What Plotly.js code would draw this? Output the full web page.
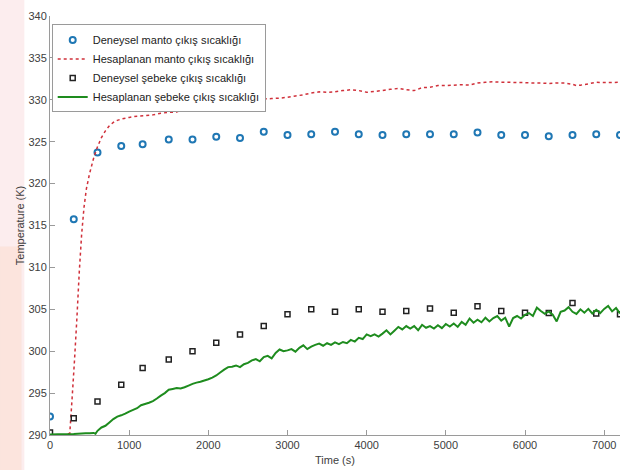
<!DOCTYPE html>
<html><head><meta charset="utf-8">
<script src="https://cdn.plot.ly/plotly-3.0.1.min.js"></script>
<style>html,body{margin:0;padding:0;background:#fff}#c{width:625px;height:470px}</style>
</head><body><div id="c"></div>
<script>
// Experimental data (every 300 s)
const expTime = [0,300,600,900,1170,1500,1800,2100,2400,2700,3000,3300,3600,3900,4200,4500,4800,5100,5400,5700,6000,6300,6600,6900,7200];
const expManto = [292.2,315.75,323.7,324.5,324.7,325.25,325.25,325.6,325.45,326.2,325.8,325.9,326.2,325.9,325.8,325.9,325.9,325.9,326.1,325.8,325.8,325.65,325.8,325.9,325.8];
const expSebeke = [290.3,292.0,294.0,296.0,298.0,299.0,300.0,301.0,302.0,303.0,304.4,305.0,304.7,305.0,304.7,304.8,305.1,304.6,305.35,304.8,304.6,304.55,305.75,304.5,304.4];

// Calculated manto outlet temperature
const calcMantoTime = [0,100,200,250,280,310,340,370,400,430,460,500,550,600,650,700,750,800,850,900,1000,1100,1200,1300,1400,1500,1600,1700,1800,1900,2000,2100,2200,2300,2400,2500,2600,2700,2800,2900,3000,3100,3200,3300,3400,3500,3600,3700,3800,3900,4000,4100,4200,4300,4400,4500,4600,4700,4800,4900,5000,5100,5200,5300,5400,5500,5600,5700,5800,5900,6000,6100,6200,6300,6400,6500,6600,6650,6700,6800,6900,7000,7100,7200];
const calcManto = [290.0,290.0,290.05,290.2,294.5,299.0,304.0,309.5,314.0,317.2,319.4,321.2,323.0,324.4,325.5,326.3,326.9,327.3,327.55,327.7,327.9,328.05,328.1,328.2,328.4,328.5,328.55,329.0,329.3,329.4,329.45,329.55,329.5,329.45,329.5,329.85,330.1,330.1,330.15,330.2,330.3,330.45,330.6,330.8,330.95,330.9,330.95,331.1,331.2,331.1,330.9,331.0,331.1,331.25,331.35,331.2,331.1,331.45,331.5,331.7,331.7,331.75,331.8,331.75,332.0,332.1,332.15,332.1,332.1,332.05,332.05,332.0,332.0,331.95,332.0,332.0,331.85,331.7,331.75,331.9,332.1,332.05,332.05,332.1];

// Calculated network (şebeke) outlet temperature
const calcSebekeTime = [0,100,200,300,400,450,500,550,575,600,650,700,750,800,850,900,950,1000,1050,1100,1150,1200,1250,1300,1350,1400,1450,1500,1550,1600,1650,1700,1750,1800,1850,1900,1950,2000,2050,2100,2150,2200,2250,2300,2350,2400,2450,2500,2550,2600,2650,2700,2750,2800,2850,2900,2950,3000,3050,3100,3150,3200,3250,3300,3350,3400,3450,3500,3550,3600,3650,3700,3750,3800,3850,3900,3950,4000,4050,4100,4150,4200,4250,4300,4350,4400,4450,4500,4550,4600,4650,4700,4750,4800,4850,4900,4950,5000,5050,5100,5150,5200,5250,5300,5350,5400,5450,5500,5550,5600,5650,5700,5750,5800,5850,5900,5950,6000,6050,6100,6150,6200,6250,6300,6350,6400,6450,6500,6550,6600,6650,6700,6750,6800,6850,6900,6950,7000,7050,7100,7150,7200];
const calcSebeke = [290.05,290.08,290.1,290.12,290.18,290.2,290.22,290.25,290.15,290.5,290.9,291.1,291.5,291.9,292.2,292.35,292.55,292.8,293.0,293.2,293.55,293.7,293.85,294.05,294.35,294.7,295.0,295.4,295.5,295.6,295.55,295.7,295.9,296.1,296.25,296.35,296.5,296.65,296.85,297.1,297.45,297.8,298.1,298.15,298.3,298.1,298.45,298.6,298.9,299.05,298.8,299.3,299.45,299.15,299.8,300.2,300.0,300.1,300.25,299.95,300.4,300.7,300.25,300.55,300.75,300.9,300.65,300.95,300.75,301.05,300.85,301.1,300.95,301.35,301.15,301.6,301.45,302.0,301.8,302.0,301.75,302.1,302.5,302.0,302.45,302.9,302.6,303.0,302.7,303.0,302.5,303.15,302.8,303.0,302.7,303.1,302.75,303.25,302.95,303.3,302.9,303.5,303.15,303.9,303.4,303.75,303.45,304.0,303.55,303.95,304.2,303.65,304.0,302.95,303.95,304.2,303.9,304.35,304.55,304.2,305.2,304.8,304.45,304.75,304.35,303.55,304.7,304.85,305.25,304.7,304.45,305.0,304.6,305.05,304.5,304.95,304.55,305.05,305.4,304.75,305.15,304.5];

const names = ['Deneysel manto çıkış sıcaklığı','Hesaplanan manto çıkış sıcaklığı','Deneysel şebeke çıkış sıcaklığı','Hesaplanan şebeke çıkış sıcaklığı'];

const traces = [
  {x: expTime, y: expManto, name: names[0], mode: 'markers', type: 'scatter',
   marker: {symbol: 'circle-open', size: 6, color: '#1f77b4', line: {width: 2, color: '#1f77b4'}}},
  {x: calcMantoTime, y: calcManto, name: names[1], mode: 'lines', type: 'scatter',
   line: {color: '#d0303a', width: 1.5, dash: 'dot', simplify: false}},
  {x: expTime, y: expSebeke, name: names[2], mode: 'markers', type: 'scatter',
   marker: {symbol: 'square-open', size: 5, color: '#222', line: {width: 1.5, color: '#222'}}},
  {x: calcSebekeTime, y: calcSebeke, name: names[3], mode: 'lines', type: 'scatter',
   line: {color: '#1e8c1e', width: 2, simplify: false}}
];

const axisCommon = {
  showgrid: false, zeroline: false, showline: true, linecolor: '#9a9a9a', linewidth: 1,
  ticks: 'inside', ticklen: 5, tickcolor: '#9a9a9a', mirror: false,
  tickfont: {family: 'Liberation Sans, Arial, sans-serif', size: 11, color: '#404040'}
};

const layout = {
  width: 625, height: 470,
  margin: {l: 50, r: 5, t: 16, b: 35},
  paper_bgcolor: '#ffffff', plot_bgcolor: 'rgba(0,0,0,0)',
  showlegend: true,
  xaxis: Object.assign({}, axisCommon, {range: [0, 7200], tickvals: [0,1000,2000,3000,4000,5000,6000,7000],
    title: {text: 'Time (s)', standoff: 6, font: {family: 'Liberation Sans, Arial, sans-serif', size: 11, color: '#404040'}}}),
  yaxis: Object.assign({}, axisCommon, {range: [290, 340], dtick: 5,
    title: {text: 'Temperature (K)', standoff: 1, font: {family: 'Liberation Sans, Arial, sans-serif', size: 11, color: '#404040'}}}),
  legend: {x: 0.003, y: 0.98, xanchor: 'left', yanchor: 'top', bgcolor: '#ffffff', bordercolor: '#9a9a9a', borderwidth: 1,
    font: {family: 'Liberation Sans, Arial, sans-serif', size: 11, color: '#222'}, itemwidth: 30, tracegroupgap: 0},
  shapes: [
    {type: 'rect', xref: 'paper', yref: 'paper', x0: -0.0877, x1: -0.045, y0: -0.084, y1: 1.04,
     fillcolor: 'rgba(245,190,195,0.28)', line: {width: 0}, layer: 'below'},
    {type: 'rect', xref: 'paper', yref: 'paper', x0: -0.0877, x1: -0.05, y0: -0.084, y1: 0.45,
     fillcolor: 'rgba(250,205,170,0.25)', line: {width: 0}, layer: 'below'}
  ]
};

Plotly.newPlot('c', traces, layout, {staticPlot: true, displayModeBar: false});
</script></body></html>
